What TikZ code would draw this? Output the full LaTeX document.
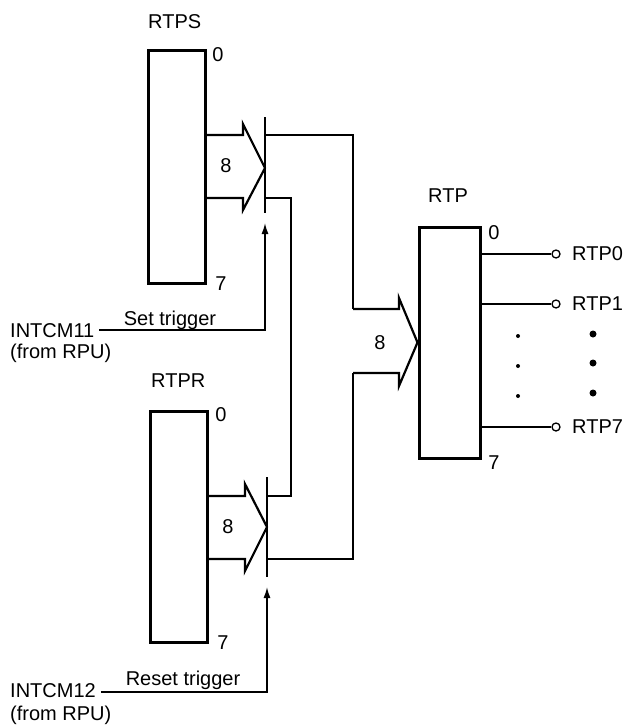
\documentclass[tikz,border=0pt]{standalone}
\usepackage{fontspec}
\setmainfont{Liberation Sans}
\usetikzlibrary{arrows.meta}
\begin{document}
\begin{tikzpicture}[x=1pt,y=-1pt,
  reg/.style={draw, line width=3pt, inner sep=0pt, minimum width=57pt},
  lbl/.style={font=\fontsize{20}{22}\selectfont, inner sep=0pt},
  wire/.style={line width=1.5pt},
  bus/.style={line width=2.2pt, line join=miter},
  latch/.style={line width=2.2pt},
  trig/.style={line width=1.5pt, -{Latex[length=11pt,width=7pt]}},
  pin/.style={circle, draw, line width=1.3pt, minimum size=8pt, inner sep=0pt},
  sdot/.style={circle, fill, minimum size=4pt, inner sep=0pt},
  bdot/.style={circle, fill, minimum size=7pt, inner sep=0pt}]
\useasboundingbox (0,0) rectangle (622,726);

% registers
\node[reg, minimum height=233pt] (rtps) at (176.5,166.5) {};
\node[reg, minimum height=231pt] (rtpr) at (178.5,526.5) {};
\node[reg, minimum width=61pt, minimum height=231pt] (rtp) at (449.5,342.5) {};

% register names
\node[lbl, anchor=base west] (nrtps) at (148,28) {RTPS};
\node[lbl, anchor=base west] (nrtpr) at (151,387) {RTPR};
\node[lbl, anchor=base west] (nrtp) at (428,202) {RTP};

% bit numbers
\node[lbl] (s0) at (218,55) {0};
\node[lbl] (s7) at (221,284) {7};
\node[lbl] (r0) at (221,415) {0};
\node[lbl] (r7) at (223,643) {7};
\node[lbl] (p0) at (494,233) {0};
\node[lbl] (p7) at (494,463) {7};

% bus arrows
\draw[bus] (rtps.east |- 0,135) -- (243,135) -- (243,124) -- (265,168) -- (243,210) -- (243,198) -- (rtps.east |- 0,198);
\node[lbl] (b1) at (226,166) {8};
\draw[bus] (rtpr.east |- 0,496) -- (245,496) -- (245,484) -- (267,527) -- (245,571) -- (245,559) -- (rtpr.east |- 0,559);
\node[lbl] (b2) at (228,527) {8};
\coordinate (pt) at (353,309);
\coordinate (pb) at (353,373);
\draw[bus] (pt) -- (399,309) -- (399,298) -- (rtp.west) -- (399,386) -- (399,373) -- (pb);
\node[lbl] (b3) at (380,343) {8};

% latch bars
\coordinate (l1t) at (265,117);
\coordinate (l1b) at (265,213);
\coordinate (l1a) at (265,223);
\draw[latch] (l1t) -- (l1b);
\coordinate (l2t) at (267,477);
\coordinate (l2b) at (267,577);
\coordinate (l2a) at (267,587);
\draw[latch] (l2t) -- (l2b);

% latch outputs
\draw[wire] (265,135) -| (pt);
\draw[wire] (265,198) -- (291,198) -- (291,496) -- (267,496);
\draw[wire] (267,559) -| (pb);

% triggers
\node[lbl, anchor=base west] (i11) at (10,337) {INTCM11};
\node[lbl, anchor=base west] (f11) at (10,358) {(from RPU)};
\node[lbl, anchor=base] (st) at (170,325) {Set trigger};
\draw[trig] ([xshift=5pt]i11.east |- 0,330) -| (l1a);

\node[lbl, anchor=base west] (i12) at (10,697) {INTCM12};
\node[lbl, anchor=base west] (f12) at (10,720) {(from RPU)};
\node[lbl, anchor=base] (rt) at (183,685) {Reset trigger};
\draw[trig] ([xshift=5pt]i12.east |- 0,692) -| (l2a);

% outputs
\node[pin] (o0) at (556,254) {};
\node[pin] (o1) at (556,304) {};
\node[pin] (o7) at (556,427) {};
\draw[wire] (rtp.east |- o0) -- (o0.west);
\draw[wire] (rtp.east |- o1) -- (o1.west);
\draw[wire] (rtp.east |- o7) -- (o7.west);
\node[lbl, anchor=west] (t0) at (572,254) {RTP0};
\node[lbl, anchor=west] (t1) at (572,304) {RTP1};
\node[lbl, anchor=west] (t7) at (572,427) {RTP7};

% ellipsis dots
\node[sdot] (d1) at (518,336) {};
\node[sdot] (d2) at (518,366) {};
\node[sdot] (d3) at (518,396) {};
\node[bdot] (e1) at (593,334) {};
\node[bdot] (e2) at (593,363) {};
\node[bdot] (e3) at (593,393) {};
\end{tikzpicture}
\end{document}
